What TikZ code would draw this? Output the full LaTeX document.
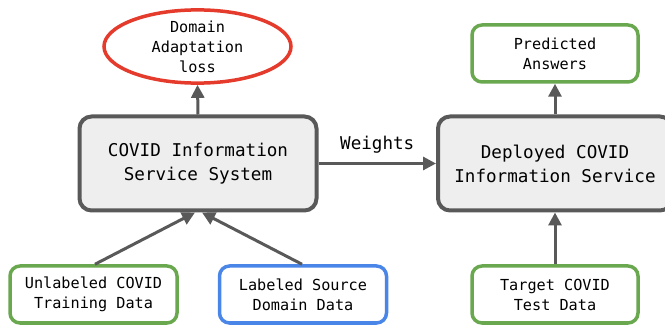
\documentclass[tikz,border=0pt]{standalone}
\usepackage{fontspec}
\setmonofont{DejaVu Sans Mono}
\usetikzlibrary{arrows.meta,shapes.geometric,calc}
\definecolor{cgray}{HTML}{595959}
\definecolor{cfill}{HTML}{EEEEEE}
\definecolor{cred}{HTML}{E53B2C}
\definecolor{cgreen}{HTML}{6AA84F}
\definecolor{cblue}{HTML}{4A86E8}
\tikzset{
  bigbox/.style={draw=cgray, fill=cfill, line width=4pt, rounded corners=12pt,
    minimum width=#1, minimum height=94pt, inner sep=0pt, align=center,
    font=\ttfamily\fontsize{17.6}{24}\selectfont},
  smallbox/.style={draw=#1, fill=white, line width=3.5pt, rounded corners=10pt,
    minimum width=166pt, minimum height=57pt, inner sep=0pt, align=center,
    font=\ttfamily\fontsize{15.2}{20}\selectfont},
  lossell/.style={ellipse, draw=cred, fill=white, line width=3.5pt,
    minimum width=187pt, minimum height=72pt, inner sep=0pt, align=center,
    font=\ttfamily\fontsize{15.2}{20}\selectfont},
  arr/.style={draw=cgray, line width=3pt, -{Triangle[length=13pt,width=13pt]}},
}
\begin{document}
\begin{tikzpicture}[x=1pt,y=-1pt]
\useasboundingbox (0,0) rectangle (665,326);
\node[lossell] (ell) at (197.5,46.5) {Domain\\Adaptation\\loss};
\node[bigbox=237pt] (sys) at (198,163.5) {COVID Information\\Service System};
\node[bigbox=234pt] (dep) at (555,163.5) {Deployed COVID\\Information Service};
\node[smallbox=cgreen] (pred) at (555,53.5) {Predicted\\Answers};
\node[smallbox=cgreen, minimum width=167pt] (unl) at (93.5,294.5) {Unlabeled COVID\\Training Data};
\node[smallbox=cblue, minimum width=167pt] (lab) at (303,294.5) {Labeled Source\\Domain Data};
\node[smallbox=cgreen] (tgt) at (555,294.5) {Target COVID\\Test Data};
\draw[arr] (sys.north) -- (ell.south);
\draw[arr] (dep.north) -- (pred.south);
\draw[arr] (tgt.north) -- (dep.south);
\draw[arr] (sys.east) -- node[above=5pt, font=\ttfamily\fontsize{17.6}{24}\selectfont] (wl) {Weights} (dep.west);
\draw[arr] ($(unl.north)+(1.5,0)$) -- ($(sys.south)+(-3,0)$);
\draw[arr] ($(lab.north)+(-1,0)$) -- ($(sys.south)+(4,0)$);
\end{tikzpicture}
\end{document}
